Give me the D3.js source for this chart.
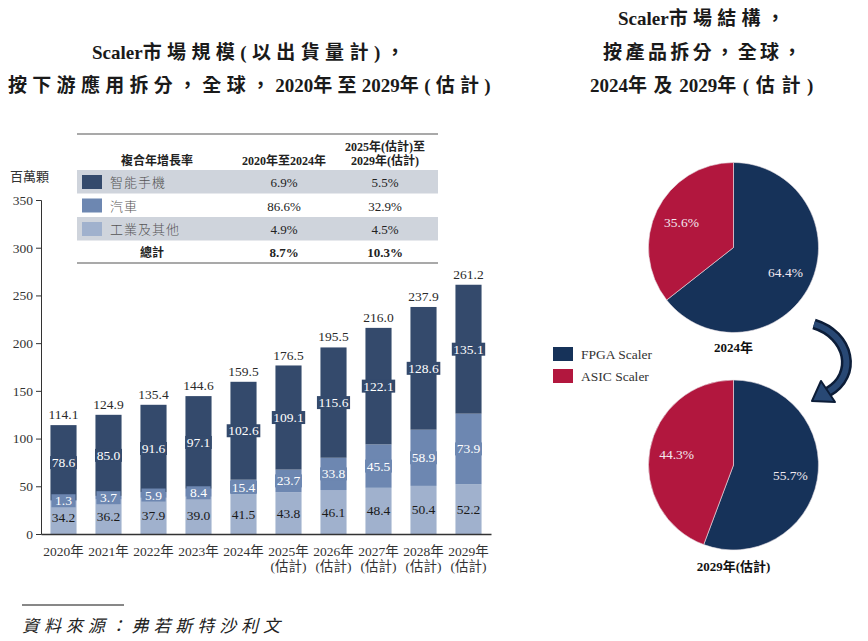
<!DOCTYPE html>
<html>
<head>
<meta charset="utf-8">
<script src="https://cdn.jsdelivr.net/npm/d3@7"></script>
<style>
  body { margin: 0; background: #fff; }
  text { font-family: "Liberation Serif", "DejaVu Serif", "Noto Sans CJK TC", serif; }
</style>
</head>
<body>
<svg id="chart" width="868" height="641"></svg>
<script>
// data
const years = ['2020年', '2021年', '2022年', '2023年', '2024年', '2025年', '2026年', '2027年', '2028年', '2029年'];
const yearNotes = ['', '', '', '', '', '(估計)', '(估計)', '(估計)', '(估計)', '(估計)'];
const industrial = [34.2, 36.2, 37.9, 39.0, 41.5, 43.8, 46.1, 48.4, 50.4, 52.2];
const automotive = [1.3, 3.7, 5.9, 8.4, 15.4, 23.7, 33.8, 45.5, 58.9, 73.9];
const smartphone = [78.6, 85.0, 91.6, 97.1, 102.6, 109.1, 115.6, 122.1, 128.6, 135.1];
const totals = [114.1, 124.9, 135.4, 144.6, 159.5, 176.5, 195.5, 216.0, 237.9, 261.2];
const yTicks = [0, 50, 100, 150, 200, 250, 300, 350];

const cagrHead = ['複合年增長率', '2020年至2024年', '2025年(估計)至', '2029年(估計)'];
const cagrNames = ['智能手機', '汽車', '工業及其他'];
const cagrFirst = ['6.9%', '86.6%', '4.9%'];
const cagrSecond = ['5.5%', '32.9%', '4.5%'];
const cagrTotal = ['總計', '8.7%', '10.3%'];

const pieNames = ['FPGA Scaler', 'ASIC Scaler'];
const pie2024 = [64.4, 35.6];
const pie2029 = [55.7, 44.3];
const pieTitles = ['2024年', '2029年(估計)'];

const barColors = ['#a0b1cd', '#6d87b1', '#344a6c'];
const pieColors = ['#163259', '#b2173e'];

const svg = d3.select('#chart');

// titles: latin runs stay tight, the rest gets spread to fill the width
function title(cx, y, str, len) {
  const t = svg.append('text')
    .attr('y', y)
    .attr('font-size', 19).attr('font-weight', 'bold')
    .attr('fill', '#1a1a1a');
  const runs = str.match(/[A-Za-z0-9]+|[^A-Za-z0-9]+/g);
  let wide = 0;
  runs.forEach(r => {
    const ts = t.append('tspan').text(r);
    if (!/[A-Za-z0-9]/.test(r)) { ts.attr('class', 'wide'); wide += r.length; }
  });
  const natural = t.node().getComputedTextLength();
  const sp = Math.max(0, (len - natural) / wide);
  t.selectAll('tspan.wide').attr('letter-spacing', sp);
  const w = t.node().getComputedTextLength();
  t.attr('x', cx - w / 2);
}
title(251, 59, 'Scaler市場規模(以出貨量計)，', 318);
title(252, 92, '按下游應用拆分，全球，2020年至2029年(估計)', 488);
title(704, 25, 'Scaler市場結構，', 172);
title(704, 59, '按產品拆分，全球，', 202);
title(705, 92, '2024年及2029年(估計)', 230);

// scales
const x = d3.scaleBand()
  .domain(d3.range(years.length))
  .range([41, 491])
  .paddingInner(0.42)
  .paddingOuter(0.21);

const y = d3.scaleLinear().domain([0, 350]).range([534, 200]);

// y axis
const yAxis = svg.append('g')
  .attr('transform', 'translate(41,0)')
  .call(d3.axisLeft(y).tickValues(yTicks).tickSize(5).tickSizeOuter(5).tickPadding(3));
yAxis.selectAll('path, line').attr('stroke', '#333');
yAxis.selectAll('text').attr('font-size', 13.5).attr('fill', '#333')
  .style('font-family', '"Liberation Serif", serif');

svg.append('text')
  .attr('x', 10).attr('y', 181)
  .attr('font-size', 13).attr('fill', '#333')
  .text('百萬顆');

// stacked bars
const rows = years.map((yr, i) => ({ i: i, ind: industrial[i], auto: automotive[i], phone: smartphone[i] }));
const keys = ['ind', 'auto', 'phone'];
const stack = d3.stack().keys(keys)(rows);

const series = svg.append('g').selectAll('g')
  .data(stack)
  .enter().append('g')
    .attr('fill', (d, k) => barColors[k]);

series.selectAll('rect')
  .data(d => d)
  .enter().append('rect')
    .attr('x', d => x(d.data.i))
    .attr('y', d => y(d[1]))
    .attr('width', x.bandwidth())
    .attr('height', d => y(d[0]) - y(d[1]));

// x axis
const xAxis = svg.append('g')
  .attr('transform', 'translate(0,' + y(0) + ')')
  .call(d3.axisBottom(x).tickSize(0).tickSizeOuter(0).tickFormat(''));
xAxis.select('path').attr('stroke', '#333').attr('stroke-width', 1.3);
xAxis.selectAll('.tick').each(function(d) {
  const t = d3.select(this).append('text')
    .attr('fill', '#333').attr('font-size', 13.5)
    .attr('text-anchor', 'middle');
  t.append('tspan').attr('x', 0).attr('y', 22).text(years[d]);
  if (yearNotes[d]) t.append('tspan').attr('x', 0).attr('y', 37).text(yearNotes[d]);
});

// segment labels
const labelLayer = svg.append('g');
stack.forEach((layer, k) => {
  layer.forEach(d => {
    const cx = x(d.data.i) + x.bandwidth() / 2;
    const cy = y((d[0] + d[1]) / 2);
    const g = labelLayer.append('g');
    const txt = g.append('text')
      .attr('x', cx).attr('y', cy + 4.5)
      .attr('text-anchor', 'middle')
      .attr('font-size', 13.5)
      .attr('fill', k === 0 ? '#1a1a1a' : '#fff')
      .text(d3.format('.1f')(d[1] - d[0]));
    if (k > 0) {
      const bb = txt.node().getBBox();
      const w = Math.max(bb.width + 3, x.bandwidth() - 2);
      g.insert('rect', 'text')
        .attr('x', cx - w / 2).attr('y', cy - 6.5)
        .attr('width', w).attr('height', 13)
        .attr('fill', barColors[k]);
    }
  });
});

// totals
svg.append('g').selectAll('text')
  .data(totals)
  .enter().append('text')
    .attr('x', (d, i) => x(i) + x.bandwidth() / 2)
    .attr('y', d => y(d) - 6)
    .attr('text-anchor', 'middle')
    .attr('font-size', 13.5)
    .attr('fill', '#2a2a2a')
    .text(d => d3.format('.1f')(d));

// CAGR table
const tbl = svg.append('g');
const rowTop = 170, rowH = 23.5;
const colA = 284, colB = 385;
tbl.append('line').attr('x1', 77).attr('x2', 438).attr('y1', 134).attr('y2', 134)
  .attr('stroke', '#555').attr('stroke-width', 1.2);
tbl.append('line').attr('x1', 77).attr('x2', 438).attr('y1', 263).attr('y2', 263)
  .attr('stroke', '#555').attr('stroke-width', 1.2);

tbl.append('text').attr('x', 157).attr('y', 165).attr('text-anchor', 'middle')
  .attr('font-size', 12).attr('font-weight', 'bold').attr('fill', '#222').text(cagrHead[0]);
tbl.append('text').attr('x', colA).attr('y', 165).attr('text-anchor', 'middle')
  .attr('font-size', 12).attr('font-weight', 'bold').attr('fill', '#222').text(cagrHead[1]);
tbl.append('text').attr('x', colB).attr('y', 151).attr('text-anchor', 'middle')
  .attr('font-size', 12).attr('font-weight', 'bold').attr('fill', '#222').text(cagrHead[2]);
tbl.append('text').attr('x', colB).attr('y', 165).attr('text-anchor', 'middle')
  .attr('font-size', 12).attr('font-weight', 'bold').attr('fill', '#222').text(cagrHead[3]);

const swatchColors = [barColors[2], barColors[1], barColors[0]];
cagrNames.forEach((name, r) => {
  const top = rowTop + r * rowH;
  if (r !== 1) {
    tbl.append('rect').attr('x', 77).attr('y', top).attr('width', 361).attr('height', rowH)
      .attr('fill', '#cfd4dc');
  }
  tbl.append('rect').attr('x', 82).attr('y', top + 5).attr('width', 20).attr('height', 14)
    .attr('fill', swatchColors[r]);
  tbl.append('text').attr('x', 110).attr('y', top + 17)
    .attr('font-size', 13).attr('fill', '#555').attr('font-weight', 300)
    .attr('letter-spacing', 1).text(name);
  tbl.append('text').attr('x', colA).attr('y', top + 17).attr('text-anchor', 'middle')
    .attr('font-size', 13).attr('fill', '#222').text(cagrFirst[r]);
  tbl.append('text').attr('x', colB).attr('y', top + 17).attr('text-anchor', 'middle')
    .attr('font-size', 13).attr('fill', '#222').text(cagrSecond[r]);
});
const totTop = rowTop + 3 * rowH;
tbl.append('text').attr('x', 152).attr('y', totTop + 16).attr('text-anchor', 'middle')
  .attr('font-size', 12).attr('font-weight', 'bold').attr('fill', '#222').text(cagrTotal[0]);
tbl.append('text').attr('x', colA).attr('y', totTop + 16).attr('text-anchor', 'middle')
  .attr('font-size', 13).attr('font-weight', 'bold').attr('fill', '#222').text(cagrTotal[1]);
tbl.append('text').attr('x', colB).attr('y', totTop + 16).attr('text-anchor', 'middle')
  .attr('font-size', 13).attr('font-weight', 'bold').attr('fill', '#222').text(cagrTotal[2]);

// pies
const R = 85;
const pie = d3.pie().sort(null).value(d => d);
const arc = d3.arc().innerRadius(0).outerRadius(R);
const labelArc = d3.arc().innerRadius(R * 0.68).outerRadius(R * 0.68);

function drawPie(values, cx, cy, label, ly) {
  const g = svg.append('g').attr('transform', 'translate(' + cx + ',' + cy + ')');
  const slices = pie(values);
  g.selectAll('path').data(slices).enter().append('path')
    .attr('d', arc)
    .attr('fill', (d, i) => pieColors[i])
    .attr('stroke', '#e8e0e6').attr('stroke-width', 0.6);
  g.selectAll('text').data(slices).enter().append('text')
    .attr('transform', d => 'translate(' + labelArc.centroid(d) + ')')
    .attr('dy', 4.5)
    .attr('text-anchor', 'middle')
    .attr('font-size', 13.5)
    .attr('fill', '#f2eaf0')
    .text(d => d3.format('.1f')(d.data) + '%');
  svg.append('text').attr('x', cx).attr('y', ly).attr('text-anchor', 'middle')
    .attr('font-size', 13).attr('font-weight', 'bold').attr('fill', '#111').text(label);
}
drawPie(pie2024, 733.5, 247.5, pieTitles[0], 352);
drawPie(pie2029, 733.5, 465, pieTitles[1], 571);

// legend
const legend = svg.append('g');
pieNames.forEach((name, i) => {
  legend.append('rect').attr('x', 553).attr('y', 347 + i * 22).attr('width', 20).attr('height', 14)
    .attr('fill', pieColors[i]);
  legend.append('text').attr('x', 581).attr('y', 359 + i * 22)
    .attr('font-size', 13.5).attr('fill', '#333').text(name);
});

// curved arrow between pies
const p = d3.path();
p.moveTo(814, 324);
p.bezierCurveTo(850, 335, 858, 375, 828, 392);
svg.append('path').attr('d', p.toString())
  .attr('fill', 'none').attr('stroke', '#0c1d38').attr('stroke-width', 11);
svg.append('path').attr('d', p.toString())
  .attr('fill', 'none').attr('stroke', '#284874').attr('stroke-width', 6);
svg.append('path')
  .attr('d', 'M812,401 L821,381 L835,402 Z')
  .attr('fill', '#284874').attr('stroke', '#0c1d38').attr('stroke-width', 2)
  .attr('stroke-linejoin', 'round');

// source
svg.append('line').attr('x1', 22).attr('x2', 124).attr('y1', 605).attr('y2', 605)
  .attr('stroke', '#111').attr('stroke-width', 1);
svg.append('text').attr('x', 22).attr('y', 632)
  .attr('font-size', 17).attr('font-style', 'italic').attr('fill', '#222')
  .attr('textLength', 258).attr('lengthAdjust', 'spacing')
  .text('資料來源：弗若斯特沙利文');
</script>
</body>
</html>
